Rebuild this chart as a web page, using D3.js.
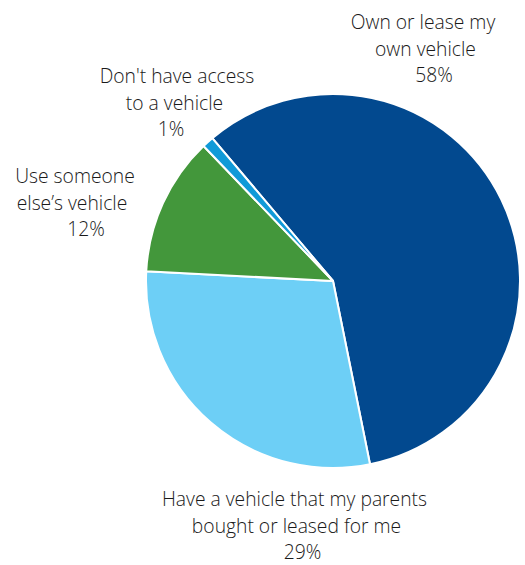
<!DOCTYPE html>
<html>
<head>
<meta charset="utf-8">
<script src="https://cdn.jsdelivr.net/npm/d3@7"></script>
<style>
  html, body { margin: 0; padding: 0; background: #fff; }
  svg text { font-family: "Open Sans", "Noto Sans", sans-serif; fill: #1a1a1a; font-weight: 300; }
</style>
</head>
<body>
<svg id="chart" width="525" height="565"></svg>
<script>
// Vehicle access shares (percent), clockwise from the first slice
const categories = [
  "Own or lease my own vehicle",
  "Have a vehicle that my parents bought or leased for me",
  "Use someone else\u2019s vehicle",
  "Don't have access to a vehicle"
];
const values = [58, 29, 12, 1];
const labelLines = [
  ["Own or lease my", "own vehicle"],
  ["Have a vehicle that my parents", "bought or leased for me"],
  ["Use someone", "else\u2019s vehicle"],
  ["Don't have access", "to a vehicle"]
];
const colors = ["#02498f", "#6dcff6", "#43973b", "#109ad8"];

const svg = d3.select("#chart");
const cx = 333, cy = 281, r = 187;

const pie = d3.pie()
  .sort(null)
  .value(d => d)
  .startAngle(-0.1117 * 2 * Math.PI)
  .endAngle(0.8883 * 2 * Math.PI);

const arc = d3.arc().innerRadius(0).outerRadius(r);

const g = svg.append("g").attr("transform", `translate(${cx},${cy})`);
g.selectAll("path")
  .data(pie(values))
  .join("path")
  .attr("d", arc)
  .attr("fill", (d, i) => colors[i])
  .attr("stroke", "#fff")
  .attr("stroke-width", 2)
  .attr("stroke-linejoin", "round");

// Label layout: centre x of each line (text lines then percent), first baseline y
const labelX = [
  [423, 425.5, 434],
  [294.5, 296.5, 302.5],
  [75, 72, 86],
  [177, 174.5, 171]
];
const labelY = [29, 506, 183, 83];
const lineGap = 26.7;
const fontSize = 19.3;

labelLines.forEach((lines, i) => {
  const rows = lines.concat([values[i] + "%"]);
  const t = svg.append("g");
  rows.forEach((line, k) => {
    t.append("text")
      .attr("x", labelX[i][k])
      .attr("y", labelY[i] + k * lineGap)
      .attr("text-anchor", "middle")
      .attr("font-size", fontSize)
      .text(line);
  });
});
</script>
</body>
</html>
